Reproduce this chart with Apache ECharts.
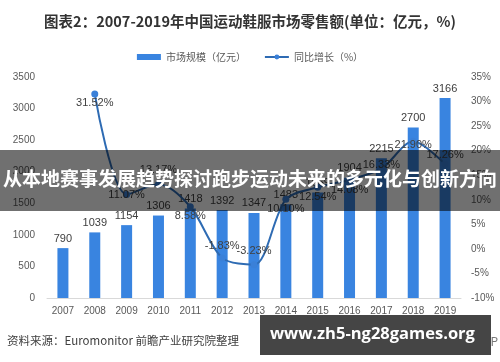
<!DOCTYPE html>
<html>
<head>
<meta charset="utf-8">
<script src="https://cdn.jsdelivr.net/npm/echarts@6/dist/echarts.min.js"></script>
<style>
html,body{margin:0;padding:0;background:#fff;}
#c{width:500px;height:362px;}
</style>
</head>
<body>
<div id="c"></div>
<script>
// ---- data ----
var years = ['2007','2008','2009','2010','2011','2012','2013','2014','2015','2016','2017','2018','2019'];
var marketSize = [790, 1039, 1154, 1306, 1418, 1392, 1347, 1483, 1669, 1904, 2215, 2700, 3166];
var growth = [null, 31.52, 11.07, 13.17, 8.58, -1.83, -3.23, 10.10, 12.54, 14.08, 16.33, 21.90, 17.26];
var leftTicks = {min: 0, max: 3500, interval: 500};
var rightTicks = {min: -10, max: 35, interval: 5};
var titleText = '图表2：2007-2019年中国运动鞋服市场零售额(单位：亿元，%)';
var seriesNames = ['市场规模（亿元）', '同比增长（%）'];
var sourceText = '资料来源：Euromonitor 前瞻产业研究院整理';
var bannerText = '从本地赛事发展趋势探讨跑步运动未来的多元化与创新方向';
var siteText = 'www.zh5-ng28games.org';
var appText = '前瞻经济学人APP';

// ---- label placement styles for the growth line ----
var lineLabelStyle = [
  null,
  {position: 'bottom', distance: 0},
  {position: 'inside'},
  {position: 'top', distance: 5},
  {position: 'bottom', distance: 0},
  {position: 'top', distance: 3},
  {position: 'top', distance: 5},
  {position: 'bottom', distance: 1},
  {position: 'bottom', distance: 1},
  {position: 'bottom', distance: 1},
  {position: 'inside', offset: [0, -4]},
  {position: 'inside', offset: [0, 4]},
  {position: 'top', distance: 0}
];

var lineData = growth.map(function (v, i) {
  var o = {value: v};
  if (lineLabelStyle[i]) o.label = lineLabelStyle[i];
  return o;
});

var chart = echarts.init(document.getElementById('c'), null, {renderer: 'canvas'});
var axisLabelStyle = {color: '#595959', fontSize: 10, fontFamily: 'Liberation Sans, Arial, sans-serif'};

chart.setOption({
  animation: false,
  backgroundColor: '#fff',
  title: {
    text: titleText,
    left: 'center',
    top: 9,
    textStyle: {fontSize: 14.5, fontWeight: 'bold', color: '#333', fontFamily: 'Noto Sans CJK SC, sans-serif'}
  },
  legend: {
    top: 47,
    left: 'center',
    itemWidth: 24,
    itemHeight: 6,
    itemGap: 18,
    textStyle: {fontSize: 10, color: '#595959', fontFamily: 'Noto Sans CJK SC, sans-serif'},
    data: [{name: seriesNames[0], icon: 'rect'}, {name: seriesNames[1]}]
  },
  grid: {left: 47, right: 39, top: 77, bottom: 64, containLabel: false},
  xAxis: {
    type: 'category',
    data: years,
    axisLine: {lineStyle: {color: '#d9d9d9'}},
    axisTick: {show: false},
    axisLabel: Object.assign({margin: 8}, axisLabelStyle)
  },
  yAxis: [
    {
      type: 'value',
      min: leftTicks.min, max: leftTicks.max, interval: leftTicks.interval,
      splitLine: {show: false},
      axisLine: {show: false},
      axisTick: {show: false},
      axisLabel: Object.assign({margin: 12, formatter: function (v) { return String(v); }}, axisLabelStyle)
    },
    {
      type: 'value',
      min: rightTicks.min, max: rightTicks.max, interval: rightTicks.interval,
      splitLine: {show: false},
      axisLine: {show: false},
      axisTick: {show: false},
      axisLabel: Object.assign({margin: 10, formatter: '{value}%'}, axisLabelStyle)
    }
  ],
  series: [
    {
      name: seriesNames[0],
      type: 'bar',
      data: marketSize,
      barWidth: 11,
      itemStyle: {color: '#3984e0'},
      label: {
        show: true, position: 'top', distance: 4,
        color: '#404040', fontSize: 11, fontFamily: 'Liberation Sans, Arial, sans-serif'
      }
    },
    {
      name: seriesNames[1],
      type: 'line',
      yAxisIndex: 1,
      data: lineData,
      smooth: 0.3,
      connectNulls: false,
      symbol: 'circle',
      symbolSize: 7,
      lineStyle: {color: '#2e6bb3', width: 2},
      itemStyle: {color: '#3a80d8'},
      label: {
        show: true,
        color: '#404040', fontSize: 11, fontFamily: 'Liberation Sans, Arial, sans-serif',
        formatter: function (p) { return p.value == null ? '' : p.value.toFixed(2) + '%'; }
      },
      z: 3
    }
  ],
  graphic: [
    {
      type: 'text', right: 2, top: 335, z: 10,
      style: {text: appText, fill: '#777', fontSize: 12, fontFamily: 'Noto Sans CJK SC, sans-serif'}
    },
    {
      type: 'text', left: 7, top: 335, z: 10,
      style: {text: sourceText, fill: '#404040', fontSize: 11.5, fontFamily: 'Noto Sans CJK SC, sans-serif'}
    },
    {
      type: 'rect', left: 260, top: 315, z: 20,
      shape: {width: 231, height: 40},
      style: {fill: '#454545'}
    },
    {
      type: 'text', left: 270, top: 326, z: 21,
      style: {text: siteText, fill: '#ffffff', fontSize: 16.5, fontWeight: 'bold', fontFamily: 'Open Sans, Liberation Sans, sans-serif'}
    },
    {
      type: 'rect', left: 0, top: 150, z: 30,
      shape: {width: 500, height: 61},
      style: {fill: 'rgba(0,0,0,0.56)'}
    },
    {
      type: 'text', left: 'center', top: 169, z: 31,
      style: {text: bannerText, fill: '#ffffff', fontSize: 19, fontWeight: 'bold', fontFamily: 'Noto Sans CJK SC, sans-serif'}
    }
  ]
});
</script>
</body>
</html>
